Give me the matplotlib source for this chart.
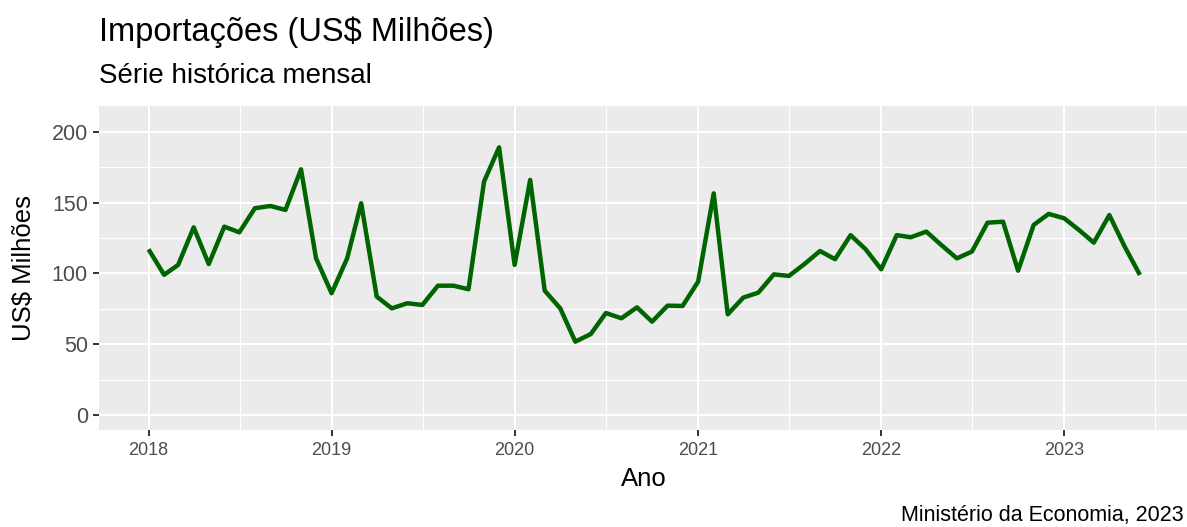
import matplotlib
matplotlib.use("Agg")
import matplotlib.pyplot as plt
import numpy as np
import pandas as pd

plt.rcParams['font.family'] = ['Liberation Sans', 'DejaVu Sans']

start_month = "2018-01-01"
n_months = 66
values = [
    117, 99, 106, 132.5, 106.6, 133, 129, 146, 147.6, 144.8, 173.5, 110.6,
    86, 110.6, 149.5, 83.6, 75.3, 78.9, 77.7, 91.3, 91.3, 88.8, 164.8, 189,
    106, 166, 87.8, 75.3, 51.8, 57.2, 72.0, 68.3, 76, 65.9, 77.2, 77,
    94.2, 156.5, 71.1, 82.9, 86.4, 99.3, 98.2, 106.6, 115.8, 110, 127, 117,
    102.9, 127, 125.5, 129.5, 120, 110.6, 115.4, 135.8, 136.5, 101.9, 134.2, 142,
    138.9, 130.2, 121.7, 141.2, 119.3, 98.9,
]
dates = pd.date_range(start_month, periods=n_months, freq="MS")

title = "Importações (US$ Milhões)"
subtitle = "Série histórica mensal"
xlabel = "Ano"
ylabel = "US$ Milhões"
caption = "Ministério da Economia, 2023"
year_ticks = [2018, 2019, 2020, 2021, 2022, 2023]
y_ticks = [0, 50, 100, 150, 200]
y_minor = [25, 75, 125, 175]

W, H = 1187, 527
fig = plt.figure(figsize=(W / 100, H / 100), dpi=100)
left, right, top, bottom = 99, 1189.5, 106, 430
aw, ah = right - left, bottom - top
ax = fig.add_axes([left / W, 1 - bottom / H, aw / W, ah / H])
ax.set_facecolor("#EBEBEB")
for s in ax.spines.values():
    s.set_visible(False)

ax.plot(dates, values, color="#006400", linewidth=3.2, solid_joinstyle="round",
        solid_capstyle="butt", zorder=3)

d0, d1 = dates[0], dates[-1]
span = d1 - d0
ax.set_xlim(d0 - span * 0.05, d1 + span * 0.05)
ax.set_ylim(-10.6, 218.2)

major_x = [pd.Timestamp(f"{y}-01-01") for y in year_ticks]
minor_x = [pd.Timestamp(f"{y}-07-02") for y in year_ticks]
ax.set_xticks(major_x)
ax.set_xticklabels([str(y) for y in year_ticks])
ax.set_xticks(minor_x, minor=True)
ax.set_yticks(y_ticks)
ax.set_yticks(y_minor, minor=True)

ax.grid(which="major", color="white", linewidth=1.5, zorder=0)
ax.grid(which="minor", color="white", linewidth=0.75, zorder=0)
ax.set_axisbelow(True)

ax.tick_params(axis="both", which="major", color="#333333", length=4.5, width=1.4)
ax.tick_params(axis="both", which="minor", length=0)
ax.tick_params(axis="x", labelsize=13, labelcolor="#4D4D4D", pad=4)
ax.tick_params(axis="y", labelsize=15.5, labelcolor="#4D4D4D", pad=3.5)

ax.set_xlabel(xlabel, fontsize=18.5, color="black", va="baseline")
ax.xaxis.set_label_coords(0.5, -(485.7 - bottom) / ah)
ax.set_ylabel(ylabel, fontsize=18.5, color="black")
ax.yaxis.set_label_coords(-(left - 36) / aw, 0.5)

fig.text(left / W, 1 - 41 / H, title, fontsize=23.5, ha="left", va="baseline")
fig.text(left / W, 1 - 83 / H, subtitle, fontsize=20, ha="left", va="baseline")
fig.text(1184 / W, 1 - 521 / H, caption, fontsize=15.5, ha="right", va="baseline")

fig.savefig("out.png", dpi=100)
